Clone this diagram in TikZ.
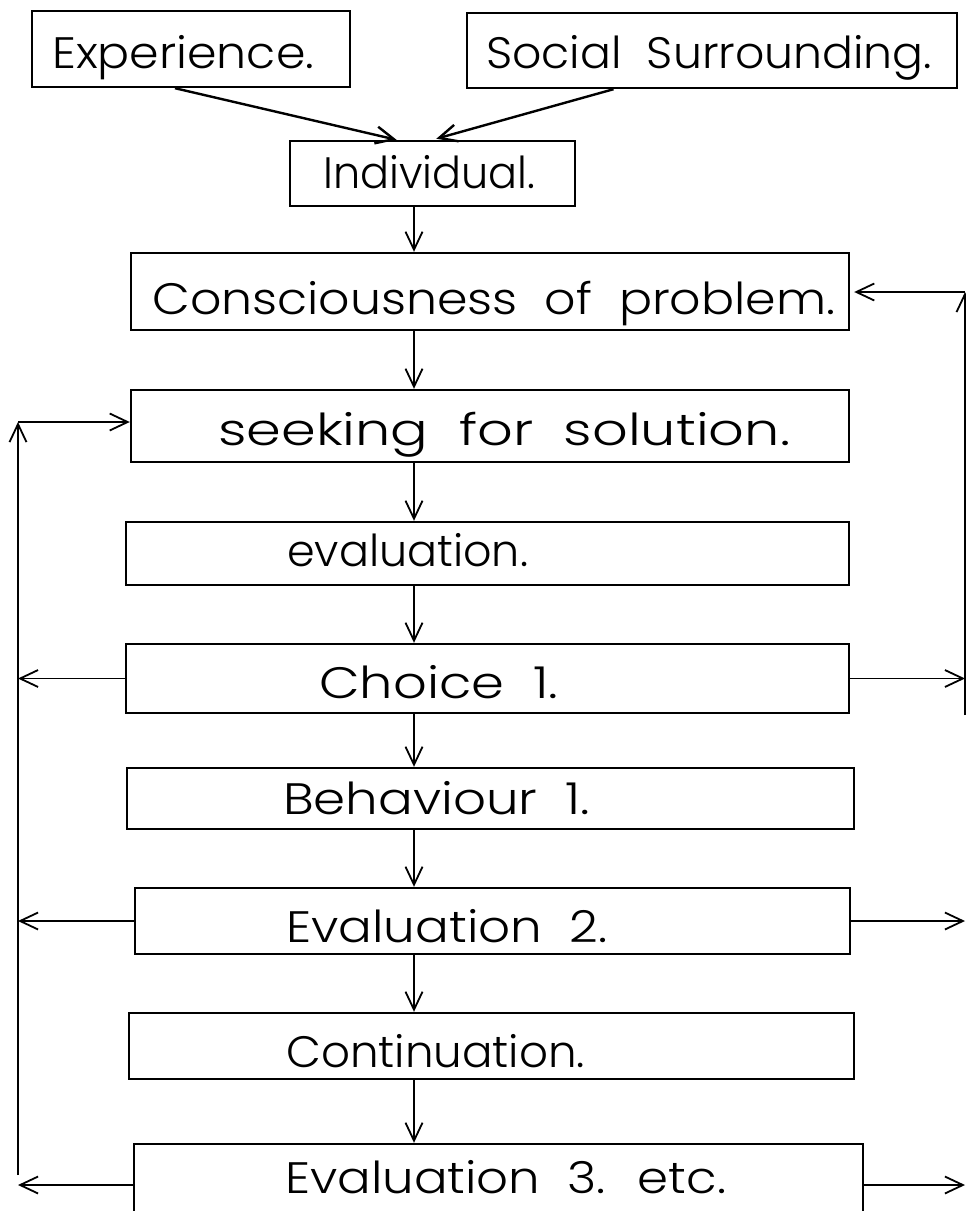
\documentclass[tikz,border=0pt]{standalone}
\usepackage{fontspec}
\setmainfont{Poppins Light}[WordSpace=2]
\usetikzlibrary{arrows.meta,calc}
% set a label to a given width (in pt) without changing its height
\newcommand\wtext[2]{\resizebox{#1pt}{\height}{#2}}

\begin{document}
\begin{tikzpicture}[x=1pt,y=-1pt,
  box/.style={draw, line width=2.4pt, inner sep=0pt},
  lbl/.style={anchor=base west, inner sep=0pt, font=\fontsize{44}{48}\selectfont},
  arr/.style={line width=1.8pt, -{Straight Barb[length=18pt,width=17pt]}},
  line/.style={line width=1.8pt}]
\useasboundingbox (0,0) rectangle (966,1211);
\clip (0,0) rectangle (966,1211);

% boxes
\node[box, minimum width=318pt, minimum height=76pt] (exp) at (191,49) {};
\node[box, minimum width=490pt, minimum height=75pt] (soc) at (712,50.5) {};
\node[box, minimum width=285pt, minimum height=65pt] (ind) at (432.5,173.5) {};
\node[box, minimum width=718pt, minimum height=77pt] (cons) at (490,291.5) {};
\node[box, minimum width=718pt, minimum height=72pt] (seek) at (490,426) {};
\node[box, minimum width=723pt, minimum height=63pt] (eval) at (487.5,553.5) {};
\node[box, minimum width=723pt, minimum height=69pt] (choice) at (487.5,678.5) {};
\node[box, minimum width=727pt, minimum height=61pt] (beh) at (490.5,798.5) {};
\node[box, minimum width=715pt, minimum height=66pt] (evaltwo) at (492.5,921) {};
\node[box, minimum width=725pt, minimum height=66pt] (cont) at (491.5,1046) {};
\node[box, minimum width=729pt, minimum height=82pt] (evalthree) at (498.5,1185) {};

% labels
\node[lbl] (expT) at (52,68) {\wtext{262}{Experience.}};
\node[lbl] (socT) at (486,68) {\wtext{446}{Social Surrounding.}};
\node[lbl] (indT) at (323,188) {\wtext{212}{Individual.}};
\node[lbl] (consT) at (152,314) {\wtext{683}{Consciousness of problem.}};
\node[lbl] (seekT) at (218,445) {\wtext{572}{seeking for solution.}};
\node[lbl] (evalT) at (287,566) {\wtext{241}{evaluation.}};
\node[lbl] (choiceT) at (319,698) {\wtext{239}{Choice 1.}};
\node[lbl] (behT) at (283,814) {\wtext{307}{Behaviour 1.}};
\node[lbl] (evaltwoT) at (286,942) {\wtext{321}{Evaluation 2.}};
\node[lbl] (contT) at (286,1067) {\wtext{299}{Continuation.}};
\node[lbl] (evalthreeT) at (285,1193) {\wtext{441}{Evaluation 3. etc.}};

% inputs to the individual
\draw[arr, line width=2.4pt] ($(exp.south west)!0.45!(exp.south east)$) -- ($(ind.north west)!0.375!(ind.north east)$);
\draw[arr, line width=2.4pt, shorten >=4pt] ($(soc.south west)!0.30!(soc.south east)$) -- ($(ind.north west)!0.5!(ind.north east)$);

% main chain
\coordinate (ax) at (414,0);
\foreach \a/\b in {ind/cons, cons/seek, seek/eval, eval/choice, choice/beh, beh/evaltwo, evaltwo/cont, cont/evalthree}
  \draw[arr] (\a.south -| ax) -- (\b.north -| ax);

% feedback on the left
\coordinate (lt) at (18,422);
\coordinate (lb) at (18,1175);
\draw[arr] (lb) -- (lt);
\draw[arr] (lt) -- (lt -| seek.west);
\draw[arr] (choice.west) -- (choice.west -| lt);
\draw[arr] (evaltwo.west) -- (evaltwo.west -| lt);
\draw[arr] (evalthree.west) -- (evalthree.west -| lt);

% feedback on the right
\coordinate (rt) at (965,292);
\coordinate (rb) at (965,715);
\draw[arr] (rb) -- (rt);
\draw[arr, shorten >=4pt] (rt) -- (rt -| cons.east);
\draw[arr] (choice.east) -- (choice.east -| rt);
\draw[arr] (evaltwo.east) -- (evaltwo.east -| rt);
\draw[arr] (evalthree.east) -- (evalthree.east -| rt);
\end{tikzpicture}
\end{document}
